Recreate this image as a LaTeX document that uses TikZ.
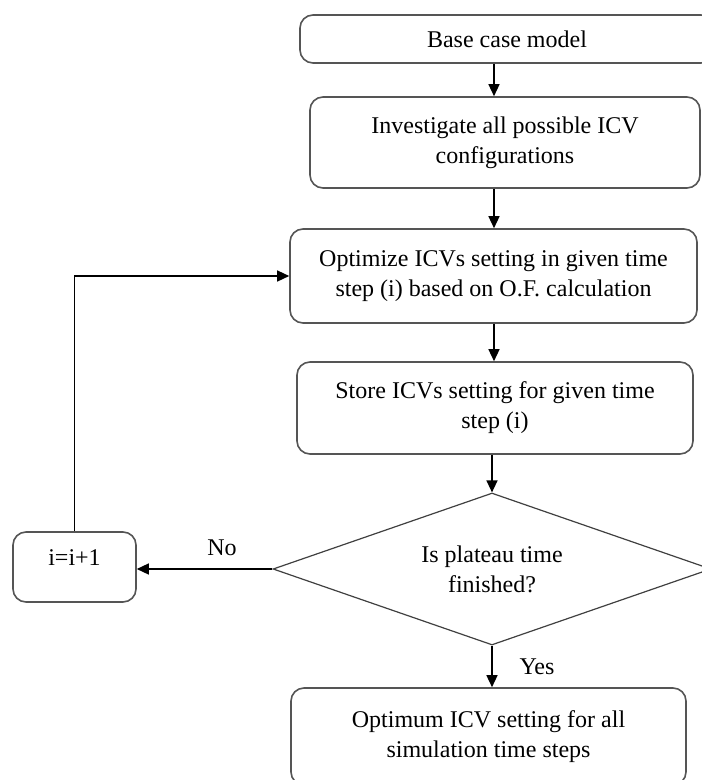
\documentclass[tikz,border=0pt]{standalone}
\usepackage{fontspec}
\setmainfont{Liberation Serif}
\usepackage{tikz}
\usetikzlibrary{arrows.meta,positioning,shapes.geometric}
\definecolor{boxline}{RGB}{85,85,85}

\begin{document}
\begin{tikzpicture}[x=1pt,y=-1pt,
    every node/.style={font=\fontsize{24}{30}\selectfont, align=center, inner sep=0pt},
    procbox/.style={draw=boxline, line width=1.6pt, rounded corners=13pt},
    decbox/.style={draw=black!75, line width=1.2pt, diamond, aspect=2.88},
    arr/.style={line width=1.4pt, -{Triangle[length=12pt,width=11pt]}}]
  \useasboundingbox (0,0) rectangle (702,780);
  \coordinate (spine) at (494,0);

  % main column
  \node[procbox, minimum width=414pt, minimum height=48pt] (base) at (507,39)
    {Base case model};
  \node[procbox, minimum width=390pt, minimum height=91pt] (invest) at (505,142.5)
    {Investigate all possible ICV\\configurations};
  \node[procbox, minimum width=407pt, minimum height=94pt] (optim) at (493.5,276)
    {Optimize ICVs setting in given time\\step (i) based on O.F. calculation};
  \node[procbox, minimum width=396pt, minimum height=92pt] (store) at (495,408)
    {Store ICVs setting for given time\\step (i)};

  % decision
  \node[decbox, minimum width=438pt, minimum height=152pt] (plateau) at (492,569)
    {Is plateau time\\finished?};

  % loop counter
  \node[procbox, minimum width=123pt, minimum height=70pt, text depth=18pt] (incr) at (74.5,567)
    {i=i+1};

  \node[procbox, minimum width=395pt, minimum height=97pt] (final) at (488.5,736.5)
    {Optimum ICV setting for all\\simulation time steps};

  % branch labels
  \node (lblno) at (222,548) {No};
  \node (lblyes) at (537,667) {Yes};

  % Draw connectors
  \draw[arr] (base.south -| spine) -- (invest.north -| spine);
  \draw[arr] (invest.south -| spine) -- (optim.north -| spine);
  \draw[arr] (optim.south -| spine) -- (store.north -| spine);
  \draw[arr] (store.south -| plateau) -- (plateau.north);
  \draw[arr] (plateau.south) -- (final.north -| plateau);
  \draw[arr] (plateau.west) -- (plateau.west -| incr.east);
  \draw[arr] (incr.north) |- (optim.west);
\end{tikzpicture}
\end{document}
